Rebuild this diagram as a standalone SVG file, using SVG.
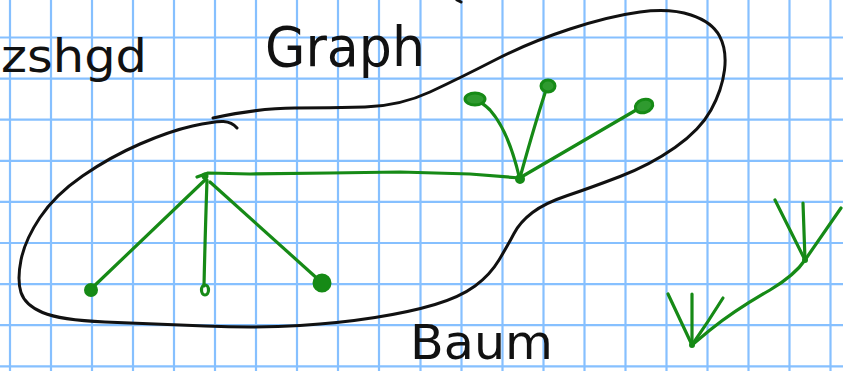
<svg xmlns="http://www.w3.org/2000/svg" width="843" height="371" viewBox="0 0 843 371">
<style>
.grid line{stroke:#86c0ff;stroke-width:2.2}
.ink{fill:none;stroke:#111;stroke-width:3;stroke-linecap:round;stroke-linejoin:round}
.edge{fill:none;stroke:#168a16;stroke-width:3.2;stroke-linecap:round;stroke-linejoin:round}
.dot{fill:#168a16;stroke:#168a16;stroke-width:2}
.ring{fill:#2f9a2f;stroke:#168a16;stroke-width:3}
.hw{font-family:"DejaVu Sans","Liberation Sans",sans-serif;fill:#111}
</style>
<rect width="843" height="371" fill="#ffffff"/>
<g class="grid">
<line x1="10" y1="0" x2="10" y2="371"/><line x1="51" y1="0" x2="51" y2="371"/><line x1="92" y1="0" x2="92" y2="371"/><line x1="133" y1="0" x2="133" y2="371"/><line x1="174" y1="0" x2="174" y2="371"/><line x1="215" y1="0" x2="215" y2="371"/><line x1="256" y1="0" x2="256" y2="371"/><line x1="297" y1="0" x2="297" y2="371"/><line x1="338" y1="0" x2="338" y2="371"/><line x1="379" y1="0" x2="379" y2="371"/><line x1="420.5" y1="0" x2="420.5" y2="371"/><line x1="461.5" y1="0" x2="461.5" y2="371"/><line x1="502.5" y1="0" x2="502.5" y2="371"/><line x1="543.5" y1="0" x2="543.5" y2="371"/><line x1="584.5" y1="0" x2="584.5" y2="371"/><line x1="625.5" y1="0" x2="625.5" y2="371"/><line x1="666.5" y1="0" x2="666.5" y2="371"/><line x1="707.5" y1="0" x2="707.5" y2="371"/><line x1="748.5" y1="0" x2="748.5" y2="371"/><line x1="789.5" y1="0" x2="789.5" y2="371"/><line x1="830.5" y1="0" x2="830.5" y2="371"/>
<line x1="0" y1="37.5" x2="843" y2="37.5"/><line x1="0" y1="78.6" x2="843" y2="78.6"/><line x1="0" y1="119.7" x2="843" y2="119.7"/><line x1="0" y1="160.8" x2="843" y2="160.8"/><line x1="0" y1="201.9" x2="843" y2="201.9"/><line x1="0" y1="243" x2="843" y2="243"/><line x1="0" y1="284.1" x2="843" y2="284.1"/><line x1="0" y1="325.2" x2="843" y2="325.2"/><line x1="0" y1="366.3" x2="843" y2="366.3"/>
</g>
<g id="blob">
<path class="ink" d="M213,118 Q260,108 295,108 Q330,108 365,107 Q400,106 430,92 Q460,78 495,60 Q530,42 570,29 Q610,16 640,12 Q670,8 691,15 Q712,22 719.5,36 Q727,50 724.5,70 Q722,90 711,110 Q700,130 675,147.5 Q650,165 620,176.5 Q590,188 567.5,195.5 Q545,203 532.5,212.5 Q520,222 514,233.5 Q508,245 499,260 Q490,275 475,286 Q460,297 435,304.5 Q410,312 375,317.5 Q340,323 300,325.5 Q260,328 205,326 Q150,324 105,322 Q60,320 42.5,312.5 Q25,305 21,292.5 Q17,280 21,260 Q25,240 40,217.5 Q55,195 82.5,176 Q110,157 140,144 Q170,131 192.5,126 Q215,121 223.5,121.5 Q232,122 237,128"/>
<path class="ink" d="M457,0 L461,2"/>
</g>
<g id="labels">
<text class="hw" x="1" y="72" font-size="46" textLength="146" lengthAdjust="spacingAndGlyphs">zshgd</text>
<text class="hw" x="265" y="66" font-size="56" textLength="160" lengthAdjust="spacingAndGlyphs">Graph</text>
<text class="hw" x="410" y="359" font-size="48" textLength="143" lengthAdjust="spacingAndGlyphs">Baum</text>
</g>
<g id="connectors">
<path class="edge" d="M197,177 L208,173 L250,174 L330,173 L400,172 L470,174 L520,178"/>
<path class="edge" d="M205,180 L91,289"/>
<path class="edge" d="M207,180 Q205,240 204,286"/>
<path class="edge" d="M210,182 L320,281"/>
<path class="edge" d="M519,176 Q508,130 490,110 Q483,103 476,100"/>
<path class="edge" d="M521,174 Q536,120 547,87"/>
<path class="edge" d="M523,176 L643,106"/>
<path class="edge" d="M805,260 Q795,275 770,290 Q735,310 710,330 L692,345"/>
<path class="edge" d="M805,260 L775,200"/>
<path class="edge" d="M805,260 L803,203"/>
<path class="edge" d="M805,260 L841,208"/>
<path class="edge" d="M692,345 L668,294"/>
<path class="edge" d="M692,345 L692,294"/>
<path class="edge" d="M692,345 Q708,322 723,298"/>
</g>
<g id="node-root"><circle class="dot" cx="205" cy="176" r="2.5"/></g>
<g id="node-leaf1"><circle class="dot" cx="91" cy="290" r="6"/></g>
<g id="node-leaf2"><ellipse cx="205" cy="290" rx="3.5" ry="5" fill="none" stroke="#168a16" stroke-width="3.2"/></g>
<g id="node-leaf3"><circle class="dot" cx="322" cy="283" r="8.5"/></g>
<g id="node-hub"><circle class="dot" cx="520" cy="179" r="4"/></g>
<g id="node-leaf4"><ellipse class="ring" cx="475" cy="99" rx="10" ry="6"/></g>
<g id="node-leaf5"><ellipse class="ring" cx="548" cy="86" rx="7" ry="6"/></g>
<g id="node-leaf6"><ellipse class="ring" cx="644" cy="106" rx="9" ry="6.5" transform="rotate(-20 644 106)"/></g>
<g id="node-t1"><circle class="dot" cx="805" cy="260" r="2"/></g>
<g id="node-t2"><circle class="dot" cx="692" cy="345" r="2"/></g>
</svg>
